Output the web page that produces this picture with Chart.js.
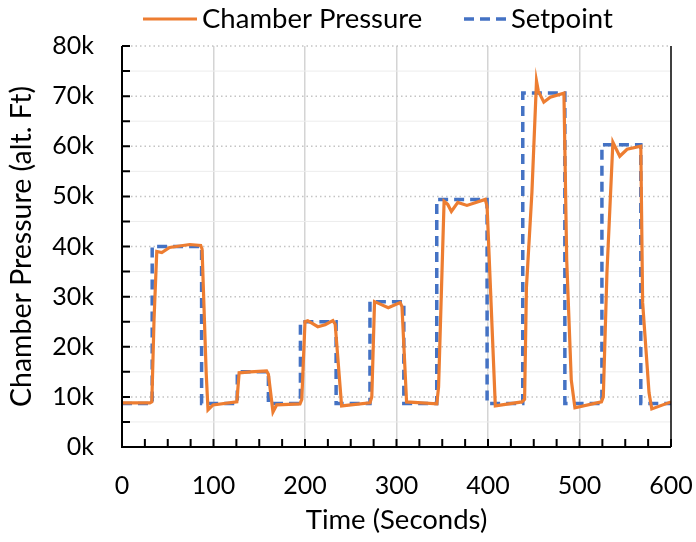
<!DOCTYPE html>
<html>
<head>
<meta charset="utf-8">
<script src="https://cdn.jsdelivr.net/npm/chart.js@4.4.1/dist/chart.umd.min.js"></script>
<style>
  body { margin: 0; background: #fff; }
  canvas { display: block; }
</style>
</head>
<body>
<canvas id="pressureChart" width="696" height="542"></canvas>
<script>
// chamber pressure trace (seconds, alt. ft)
const pressureTime = [0, 30.5, 32.6, 35, 38, 43.5, 52, 74, 86, 87.5, 92, 94, 99.5, 125.5, 128, 140, 158, 160, 165, 169,
    194.5, 196.5, 200, 203, 214, 222, 230.5, 233, 240, 271, 273, 276, 281, 291, 304, 306, 311, 344, 346, 352,
    356, 360, 367, 377, 397, 399, 408, 437, 440, 442, 448, 453, 455, 461, 468, 483, 486, 491, 495, 524,
    526, 530, 536.5, 544, 552, 567, 569, 576, 579, 600];
const pressureAlt = [8800, 8800, 9000, 25400, 39000, 38800, 39800, 40400, 40200, 39500, 14800, 7400, 8400, 9000, 14800, 15000, 15200, 14500, 7000, 8400,
    8600, 9500, 25000, 25200, 24000, 24400, 25200, 24500, 8200, 8800, 10000, 29000, 28600, 27800, 28800, 28000, 9000, 8600, 12000, 49000,
    48400, 47000, 48800, 48200, 49400, 48000, 8200, 9000, 9500, 31800, 50800, 73000, 71000, 68800, 69800, 70600, 37400, 13400, 7800, 9000,
    10000, 34800, 60800, 58000, 59400, 60000, 28800, 10800, 7600, 9000];

// setpoint steps (value holds from its time until the next time)
const setTime = [0, 33, 87, 126, 160, 195, 234, 271, 308, 344, 399, 438, 484, 524.5, 567, 600];
const setAlt = [8700, 40000, 8700, 15000, 8700, 25000, 8700, 29000, 8700, 49400, 8700, 70600, 8700, 60300, 8700, 8700];

const xTicks = [0, 100, 200, 300, 400, 500, 600];

const FONT = "Lato";
const ORANGE = "#ED7D31";
const BLUE = "#4472C4";

const pressurePts = pressureTime.map((t, i) => ({ x: t, y: pressureAlt[i] }));
const setPts = setTime.map((t, i) => ({ x: t, y: setAlt[i] }));

// gridlines, inward ticks and axis lines
const axisPlugin = {
    id: "axisPlugin",
    beforeDatasetsDraw(chart) {
        const { ctx, chartArea: a, scales: { y } } = chart;
        ctx.save();
        y.ticks.forEach(t => {
            const py = y.getPixelForValue(t.value);
            if (t.value === 0) return;
            ctx.beginPath();
            if (t.value % 10000 === 0) {
                ctx.strokeStyle = "#c4c4c4";
                ctx.lineWidth = 1.5;
                ctx.setLineDash([1.5, 3]);
            } else {
                ctx.strokeStyle = "#ececec";
                ctx.lineWidth = 1;
                ctx.setLineDash([]);
            }
            ctx.moveTo(a.left, py);
            ctx.lineTo(a.right, py);
            ctx.stroke();
        });
        ctx.restore();
    },
    afterDatasetsDraw(chart) {
        const { ctx, chartArea: a, scales: { x, y } } = chart;
        ctx.save();
        ctx.strokeStyle = "#000";
        ctx.lineWidth = 2;
        ctx.beginPath();
        y.ticks.forEach(t => {
            const py = y.getPixelForValue(t.value);
            ctx.moveTo(a.left, py);
            ctx.lineTo(a.left + 8, py);
        });
        x.ticks.forEach(t => {
            const px = x.getPixelForValue(t.value);
            ctx.moveTo(px, a.bottom);
            ctx.lineTo(px, a.bottom - 8);
        });
        ctx.moveTo(a.left, a.top);
        ctx.lineTo(a.left, a.bottom);
        ctx.lineTo(a.right, a.bottom);
        ctx.stroke();
        ctx.lineWidth = 1.5;
        ctx.beginPath();
        ctx.moveTo(a.right, a.top);
        ctx.lineTo(a.right, a.bottom);
        ctx.stroke();
        ctx.restore();
    }
};

// legend drawn at the top like the original
const legendPlugin = {
    id: "legendPlugin",
    afterDraw(chart) {
        const ctx = chart.ctx;
        const ly = 19;
        ctx.save();
        ctx.font = "27.5px " + FONT;
        ctx.fillStyle = "#000";
        ctx.textBaseline = "middle";

        ctx.strokeStyle = ORANGE;
        ctx.lineWidth = 3.2;
        ctx.beginPath();
        ctx.moveTo(143, ly);
        ctx.lineTo(197, ly);
        ctx.stroke();
        ctx.fillText(chart.data.datasets[0].label, 202, ly);

        ctx.strokeStyle = BLUE;
        ctx.lineWidth = 3.5;
        ctx.setLineDash([10, 6]);
        ctx.beginPath();
        ctx.moveTo(464, ly);
        ctx.lineTo(507, ly);
        ctx.stroke();
        ctx.fillText(chart.data.datasets[1].label, 511, ly);
        ctx.restore();
    }
};

const tickFont = { family: FONT, size: 25 };
const titleFont = { family: FONT, size: 27.5 };

new Chart(document.getElementById("pressureChart"), {
    type: "line",
    data: {
        datasets: [{
            label: "Chamber Pressure",
            data: pressurePts,
            borderColor: ORANGE,
            borderWidth: 3.2,
            pointRadius: 0,
            tension: 0,
            order: 1
        }, {
            label: "Setpoint",
            data: setPts,
            stepped: "before",
            borderColor: BLUE,
            borderWidth: 3.5,
            borderDash: [10, 6],
            pointRadius: 0,
            order: 2
        }]
    },
    options: {
        responsive: false,
        animation: false,
        layout: { padding: { left: 0, right: 25, top: 46, bottom: 0 } },
        plugins: {
            legend: { display: false },
            tooltip: { enabled: false }
        },
        scales: {
            x: {
                type: "linear",
                min: 0,
                max: 600,
                ticks: {
                    stepSize: 25,
                    autoSkip: false,
                    maxRotation: 0,
                    padding: 24,
                    color: "#000",
                    font: tickFont,
                    callback: v => xTicks.includes(v) ? String(v) : ""
                },
                grid: {
                    drawTicks: false,
                    lineWidth: 1.5,
                    color: c => (c.tick && c.tick.value % 100 === 0 && c.tick.value > 0 && c.tick.value < 600) ? "#d4d4d4" : "rgba(0,0,0,0)"
                },
                border: { display: false },
                title: {
                    display: true,
                    text: "Time (Seconds)",
                    color: "#000",
                    font: titleFont,
                    padding: { top: 0, bottom: 5 }
                },
                afterFit: s => {
                    s.height = 95;
                    s.paddingLeft = 0;
                    s.paddingRight = 0;
                }
            },
            y: {
                min: 0,
                max: 80000,
                ticks: {
                    stepSize: 5000,
                    autoSkip: false,
                    padding: 28,
                    color: "#000",
                    font: tickFont,
                    callback: v => v % 10000 === 0 ? (v / 1000) + "k" : ""
                },
                grid: { display: false, drawTicks: false },
                border: { display: false },
                title: {
                    display: true,
                    text: "Chamber Pressure (alt. Ft)",
                    color: "#000",
                    font: { family: FONT, size: 28.5 },
                    padding: { top: 5, bottom: 0 }
                },
                afterFit: s => { s.width = 122; }
            }
        }
    },
    plugins: [axisPlugin, legendPlugin]
});
</script>
</body>
</html>
